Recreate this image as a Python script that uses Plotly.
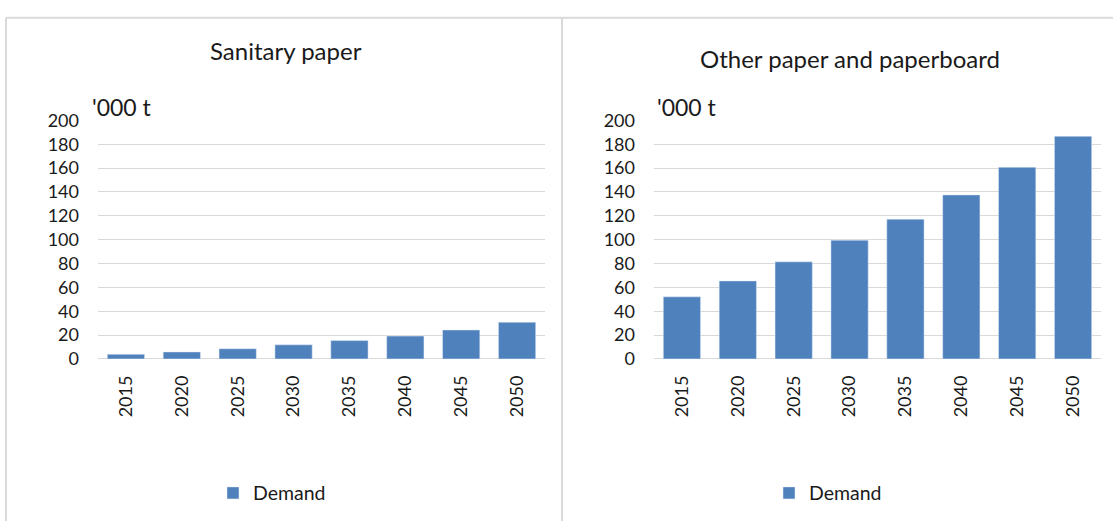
import plotly.graph_objects as go

years = ["2015", "2020", "2025", "2030", "2035", "2040", "2045", "2050"]
sanitary = [4.0, 5.9, 8.6, 11.9, 15.4, 19.2, 24.3, 30.8]
other = [52.1, 65.4, 81.4, 99.6, 117.2, 137.5, 160.7, 186.6]
titles = ["Sanitary paper", "Other paper and paperboard"]
unit = "'000 t"
series_name = "Demand"
yticks = list(range(0, 201, 20))

W, H = 1113, 531
BLUE = "#4f81bd"
FONT = "Lato"
TXT = "#1a1a1a"

fig = go.Figure()
fig.add_trace(go.Bar(x=years, y=sanitary, name=series_name, marker_color=BLUE,
                     xaxis="x", yaxis="y", legend="legend"))
fig.add_trace(go.Bar(x=years, y=other, name=series_name, marker_color=BLUE,
                     xaxis="x2", yaxis="y2", legend="legend2"))

ydom = [1 - 362 / H, 1 - 113 / H]
axcommon_y = dict(range=[0, 200], tickvals=yticks, showgrid=True, gridcolor="#d9d9d9",
                  gridwidth=1, zeroline=True, zerolinecolor="#d9d9d9", zerolinewidth=1,
                  showline=False, ticks="", ticklabelstandoff=18,
                  tickfont=dict(family=FONT, size=18, color=TXT), fixedrange=True)
axcommon_x = dict(type="category", showgrid=False, showline=False, ticks="", tickangle=-90,
                  tickfont=dict(family=FONT, size=18, color=TXT), ticklabelstandoff=12)

fig.update_layout(
    width=W, height=H, margin=dict(l=0, r=0, t=0, b=0),
    paper_bgcolor="white", plot_bgcolor="white",
    bargap=0.333,
    font=dict(family=FONT, color=TXT),
    xaxis=dict(domain=[98 / W, 545 / W], anchor="y", **axcommon_x),
    yaxis=dict(domain=ydom, anchor="x", **axcommon_y),
    xaxis2=dict(domain=[654 / W, 1101 / W], anchor="y2", **axcommon_x),
    yaxis2=dict(domain=ydom, anchor="x2", **axcommon_y),
    legend=dict(x=272 / W, y=1 - 502 / H, xanchor="center", yanchor="middle",
                itemwidth=30, font=dict(family=FONT, size=19.5, color=TXT),
                bgcolor="rgba(0,0,0,0)"),
    legend2=dict(x=828 / W, y=1 - 502 / H, xanchor="center", yanchor="middle",
                 itemwidth=30, font=dict(family=FONT, size=19.5, color=TXT),
                 bgcolor="rgba(0,0,0,0)"),
    showlegend=True,
)

annots = [
    dict(text=titles[0], x=286 / W, y=1 - 40 / H),
    dict(text=titles[1], x=850 / W, y=1 - 49 / H),
]
for a in annots:
    fig.add_annotation(xref="paper", yref="paper", xanchor="center", yanchor="middle",
                       showarrow=False, font=dict(family=FONT, size=24, color=TXT), **a)
for xpos in [90, 655]:
    fig.add_annotation(xref="paper", yref="paper", x=xpos / W, y=1 - 99 / H,
                       xanchor="left", yanchor="middle", showarrow=False, text=unit,
                       font=dict(family=FONT, size=23, color=TXT))

# panel borders
line = dict(color="#d9d9d9", width=2)
fig.add_shape(type="line", xref="paper", yref="paper", x0=6 / W, x1=1, y0=1 - 6 / H, y1=1 - 6 / H, line=line)
fig.add_shape(type="line", xref="paper", yref="paper", x0=6 / W, x1=6 / W, y0=0, y1=1 - 6 / H, line=line)
fig.add_shape(type="line", xref="paper", yref="paper", x0=562 / W, x1=562 / W, y0=0, y1=1 - 6 / H, line=line)

fig.write_html("out.html")
